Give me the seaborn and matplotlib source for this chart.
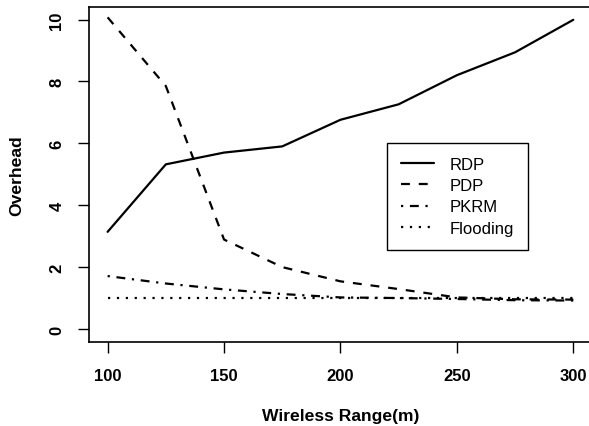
import matplotlib
matplotlib.use("Agg")
import matplotlib.pyplot as plt
import seaborn as sns
import pandas as pd

# ---- data ----
wireless_range = [100, 125, 150, 175, 200, 225, 250, 275, 300]
rdp = [3.14, 5.32, 5.70, 5.90, 6.76, 7.26, 8.20, 8.94, 9.99]
pdp = [10.07, 7.85, 2.89, 2.00, 1.54, 1.29, 1.02, 0.96, 0.95]
pkrm = [1.71, 1.47, 1.28, 1.13, 1.02, 1.00, 0.97, 0.93, 0.92]
flooding = [1.0, 1.0, 1.0, 1.0, 1.0, 1.0, 1.0, 1.0, 1.0]
series_names = ["RDP", "PDP", "PKRM", "Flooding"]
x_ticks = [100, 150, 200, 250, 300]
y_ticks = [0, 2, 4, 6, 8, 10]

sns.set_style("white")
plt.rcParams["font.family"] = ["Liberation Sans", "DejaVu Sans"]
plt.rcParams["text.color"] = "black"
plt.rcParams["axes.labelcolor"] = "black"
plt.rcParams["xtick.color"] = "black"
plt.rcParams["ytick.color"] = "black"

fig = plt.figure(figsize=(5.89, 4.27), dpi=100)
W, H = 589, 427
left, right, bottom, top = 89, 591.9, 342.5, 8
ax = fig.add_axes([left / W, 1 - bottom / H, (right - left) / W, (bottom - top) / H])

lw = 1.6
styles = {
    "RDP": "-",
    "PDP": (0, (4, 4)),
    "PKRM": (0, (1, 3, 4, 3)),
    "Flooding": (0, (1, 3)),
}
values = {"RDP": rdp, "PDP": pdp, "PKRM": pkrm, "Flooding": flooding}
for name in series_names:
    df = pd.DataFrame({"x": wireless_range, "y": values[name]})
    sns.lineplot(data=df, x="x", y="y", ax=ax, color="black", linewidth=lw,
                 linestyle=styles[name], label=name, legend=False)

ax.set_xlim(92, 308)
ax.set_ylim(-0.404, 10.404)
ax.set_xticks(x_ticks)
ax.set_yticks(y_ticks)
ax.set_xticklabels([str(v) for v in x_ticks], fontweight="bold", fontsize=12)
ax.set_yticklabels([str(v) for v in y_ticks], fontweight="bold", fontsize=12,
                   rotation=90, va="center")
ax.tick_params(axis="both", direction="out", length=7.7, width=1.0,
               bottom=True, left=True)
ax.tick_params(axis="x", pad=11.5)
ax.tick_params(axis="y", pad=10)
for s in ax.spines.values():
    s.set_color("black")
    s.set_linewidth(1.2)

ax.set_xlabel("Wireless Range(m)", fontweight="bold", fontsize=12.6)
ax.set_ylabel("Overhead", fontweight="bold", fontsize=12.6)
ax.xaxis.label.set_va("center")
ax.yaxis.label.set_va("center")
ax.xaxis.set_label_coords((340.5 - left) / (right - left), (bottom - 416.7) / (bottom - top))
ax.yaxis.set_label_coords((16.7 - left) / (right - left), 0.5)

leg = ax.legend(loc="upper left", bbox_to_anchor=(386.7 / W, 1 - 144 / H),
                bbox_transform=fig.transFigure, fontsize=12, frameon=True,
                fancybox=False, edgecolor="black", framealpha=1,
                handlelength=2.0, handletextpad=0.9, labelspacing=0.37,
                borderpad=0.85, borderaxespad=0)
leg.get_frame().set_linewidth(1.0)
for t in leg.get_texts():
    t.set_color("black")

fig.savefig("out.png", dpi=100)
